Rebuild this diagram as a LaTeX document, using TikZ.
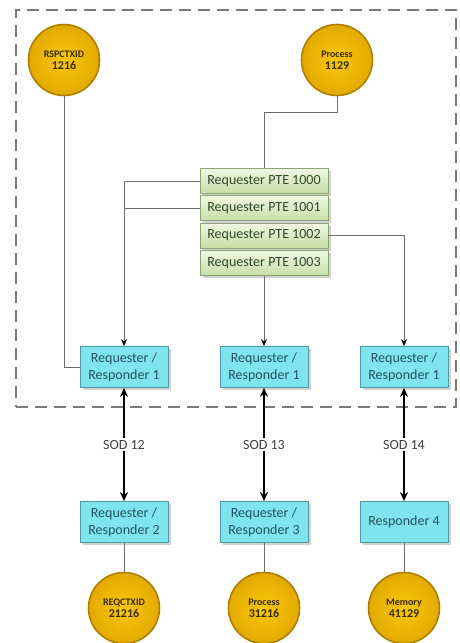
\documentclass[tikz,border=0pt]{standalone}
\usepackage{fontspec}
\setmainfont{Carlito}
\usetikzlibrary{arrows.meta,shadows,calc}
\definecolor{goldin}{HTML}{F9C80A}
\definecolor{goldout}{HTML}{E2AA00}
\definecolor{goldedge}{HTML}{B07F00}
\definecolor{goldtext}{HTML}{3A2A00}
\definecolor{cyanfill}{HTML}{7FE4EE}
\definecolor{cyanedge}{HTML}{4F9AA2}
\definecolor{cyantext}{HTML}{1F5560}
\definecolor{greentop}{HTML}{F0F8E2}
\definecolor{greenbot}{HTML}{C6DEA6}
\definecolor{greenedge}{HTML}{8CA474}
\definecolor{greentext}{HTML}{2E4A2A}
\definecolor{connc}{HTML}{6E6E6E}
\definecolor{dashc}{HTML}{7A7A7A}
\tikzset{
  disc/.style={circle, minimum size=71pt, inner sep=0pt, shading=radial, inner color=goldin, outer color=goldout, draw=goldedge, line width=1.6pt, align=center, text=goldtext, font=\bfseries},
  rrbox/.style={rectangle, minimum width=88pt, minimum height=41pt, inner sep=0pt, fill=cyanfill, draw=cyanedge, line width=0.8pt, align=center, text=cyantext, font=\fontsize{14}{17}\selectfont, drop shadow={shadow xshift=2.5pt, shadow yshift=-2.5pt, fill=black!35}},
  ptebox/.style={rectangle, minimum width=128pt, minimum height=25pt, inner sep=0pt, top color=greentop, bottom color=greenbot, draw=greenedge, line width=0.8pt, text=greentext, font=\fontsize{14}{17}\selectfont, drop shadow={shadow xshift=2.5pt, shadow yshift=-2.5pt, fill=black!35}},
  conn/.style={draw=connc, line width=0.9pt},
  connarrow/.style={conn, -{Stealth[length=7pt,width=6pt,black]}},
  biarrow/.style={draw=black, line width=1.8pt, {Stealth[length=9pt,width=8pt]}-{Stealth[length=9pt,width=8pt]}},
  sodlabel/.style={fill=white, inner sep=2pt, text=black!75, font=\fontsize{14}{17}\selectfont},
  frame/.style={draw=dashc, line width=1.6pt, dash pattern=on 12pt off 7pt}
}
\begin{document}
\begin{tikzpicture}[x=1pt,y=-1pt]
\useasboundingbox (0,0) rectangle (459,643);
\node[frame, rectangle, minimum width=440pt, minimum height=397pt, inner sep=0pt] (frm) at (236,208.5) {};
% top circles
\node[disc] (c1) at (64,60) {{\fontsize{10}{14}\selectfont RSPCTXID}\\{\fontsize{12}{14}\selectfont 1216}};
\node[disc] (c2) at (337,60) {{\fontsize{10}{14}\selectfont Process}\\{\fontsize{12}{14}\selectfont 1129}};
% PTE boxes
\node[ptebox] (p0) at (264,181) {Requester PTE 1000};
\node[ptebox] (p1) at (264,208) {Requester PTE 1001};
\node[ptebox] (p2) at (264,235.5) {Requester PTE 1002};
\node[ptebox] (p3) at (264,263) {Requester PTE 1003};
% row 1
\node[rrbox] (r1) at (124,367) {Requester /\\Responder 1};
\node[rrbox] (r2) at (264,367) {Requester /\\Responder 1};
\node[rrbox] (r3) at (404,367) {Requester /\\Responder 1};
% row 2
\node[rrbox] (s1) at (124,522) {Requester /\\Responder 2};
\node[rrbox] (s2) at (264,522) {Requester /\\Responder 3};
\node[rrbox] (s3) at (404,522) {Responder 4};
% bottom circles
\node[disc] (b1) at (124,608) {{\fontsize{10}{14}\selectfont REQCTXID}\\{\fontsize{12}{14}\selectfont 21216}};
\node[disc] (b2) at (264,608) {{\fontsize{10}{14}\selectfont Process}\\{\fontsize{12}{14}\selectfont 31216}};
\node[disc] (b3) at (404,608) {{\fontsize{10}{14}\selectfont Memory}\\{\fontsize{12}{14}\selectfont 41129}};
% connectors
\draw[conn] (c1.south) |- (r1.west);
\draw[conn] (c2.south) -- ++(0,16) -| (p0.north);
\draw[connarrow] (p0.west) -| (r1.north);
\draw[conn] (p1.west) -- (p1.west -| r1.north);
\draw[connarrow] (p2.east) -| (r3.north);
\draw[connarrow] (p3.south) -- (r2.north);
\draw[biarrow] (r1.south) -- node[sodlabel] {SOD 12} (s1.north);
\draw[biarrow] (r2.south) -- node[sodlabel] {SOD 13} (s2.north);
\draw[biarrow] (r3.south) -- node[sodlabel] {SOD 14} (s3.north);
\draw[conn] (s1.south) -- (b1.north);
\draw[conn] (s2.south) -- (b2.north);
\draw[conn] (s3.south) -- (b3.north);
\end{tikzpicture}
\end{document}
